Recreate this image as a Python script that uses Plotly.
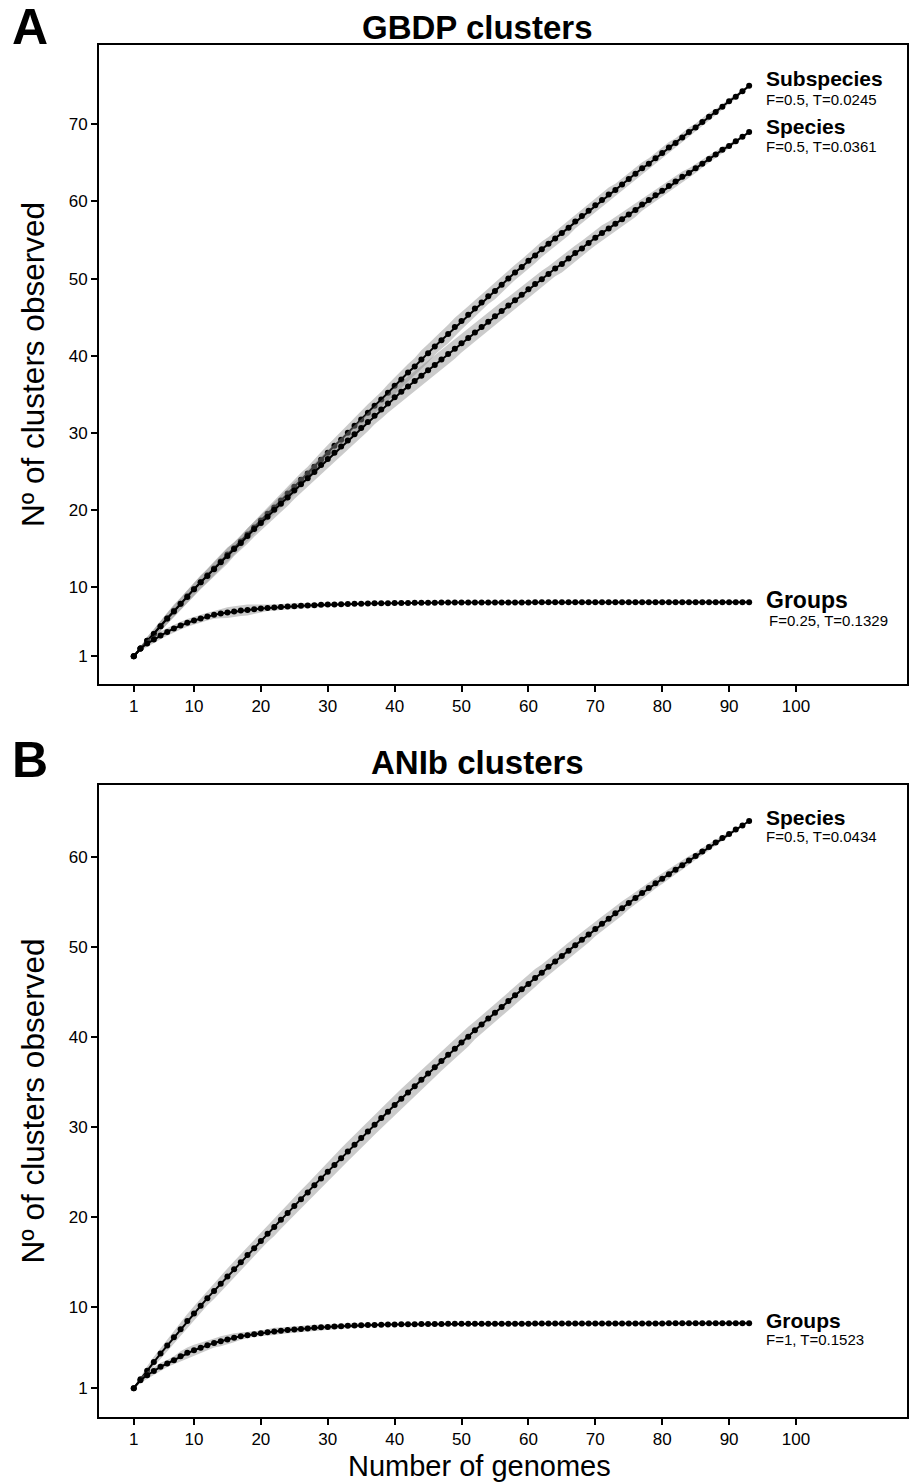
import plotly.graph_objects as go

genomes = list(range(1, 94))

# Panel A (GBDP) mean number of clusters
gbdp_subspecies = [
    1.0, 2.0, 3.0, 3.9, 4.9, 5.9, 6.9, 7.8, 8.8, 9.7,
    10.6, 11.5, 12.4, 13.3, 14.2, 15.0, 15.9, 16.8, 17.7, 18.6,
    19.5, 20.3, 21.2, 22.1, 23.0, 23.9, 24.7, 25.6, 26.5, 27.4,
    28.3, 29.1, 30.0, 30.9, 31.7, 32.6, 33.5, 34.3, 35.2, 36.1,
    36.9, 37.8, 38.6, 39.5, 40.3, 41.2, 42.0, 42.8, 43.7, 44.5,
    45.3, 46.1, 46.9, 47.7, 48.4, 49.2, 50.0, 50.8, 51.5, 52.3,
    53.0, 53.8, 54.5, 55.2, 55.9, 56.6, 57.4, 58.1, 58.8, 59.5,
    60.2, 60.9, 61.5, 62.2, 62.9, 63.6, 64.3, 64.9, 65.6, 66.3,
    67.0, 67.6, 68.3, 69.0, 69.6, 70.3, 71.0, 71.6, 72.3, 73.0,
    73.6, 74.3, 75.0]
gbdp_species = [
    1.0, 2.0, 3.0, 3.9, 4.9, 5.9, 6.8, 7.8, 8.7, 9.7,
    10.6, 11.4, 12.3, 13.2, 14.0, 14.9, 15.7, 16.6, 17.5, 18.3,
    19.1, 20.0, 20.8, 21.6, 22.5, 23.3, 24.1, 24.9, 25.8, 26.6,
    27.4, 28.2, 29.0, 29.8, 30.6, 31.4, 32.2, 33.0, 33.8, 34.6,
    35.3, 36.0, 36.7, 37.4, 38.1, 38.8, 39.5, 40.2, 40.9, 41.6,
    42.3, 43.0, 43.7, 44.4, 45.1, 45.8, 46.5, 47.2, 47.9, 48.6,
    49.3, 49.9, 50.6, 51.3, 51.9, 52.6, 53.3, 53.9, 54.6, 55.3,
    55.9, 56.5, 57.1, 57.7, 58.3, 58.9, 59.6, 60.2, 60.8, 61.4,
    62.0, 62.6, 63.2, 63.7, 64.3, 64.9, 65.5, 66.1, 66.7, 67.2,
    67.8, 68.4, 69.0]
gbdp_groups = [
    1.0, 2.0, 2.65, 3.17, 3.7, 4.16, 4.6, 4.98, 5.33, 5.63,
    5.9, 6.15, 6.37, 6.54, 6.67, 6.8, 6.93, 7.0, 7.1, 7.19,
    7.26, 7.33, 7.39, 7.45, 7.5, 7.55, 7.59, 7.63, 7.67, 7.7,
    7.73, 7.76, 7.78, 7.8, 7.82, 7.84, 7.86, 7.87, 7.89, 7.9,
    7.91, 7.92, 7.93, 7.94, 7.95, 7.95, 7.96, 7.96, 7.97, 7.97,
    7.98, 7.98, 7.98, 7.98, 7.98, 7.98, 7.98, 7.98, 7.98, 7.98,
    7.99, 7.99, 7.99, 7.99, 7.99, 7.99, 7.99, 7.99, 7.99, 7.99,
    8.0, 8.0, 8.0, 8.0, 8.0, 8.0, 8.0, 8.0, 8.0, 8.0,
    8.0, 8.0, 8.0, 8.0, 8.0, 8.0, 8.0, 8.0, 8.0, 8.0,
    8.0, 8.0, 8.0]

# Panel A ribbon half-widths
gbdp_subspecies_hw = [
    0.0, 0.3, 0.5, 0.6, 0.7, 0.7, 0.8, 0.8, 0.8, 0.8,
    0.8, 0.9, 0.9, 0.9, 0.9, 0.8, 0.8, 0.9, 0.9, 0.9,
    0.9, 0.9, 1.0, 1.0, 1.0, 0.9, 0.9, 1.0, 1.0, 1.0,
    1.0, 1.0, 1.0, 1.0, 1.1, 1.1, 1.0, 1.0, 1.1, 1.1,
    1.1, 1.1, 1.1, 1.2, 1.2, 1.1, 1.1, 1.2, 1.2, 1.1,
    1.1, 1.1, 1.0, 1.0, 1.1, 1.1, 1.0, 1.0, 1.0, 1.0,
    1.0, 1.0, 0.9, 0.9, 1.0, 1.0, 0.9, 0.9, 0.9, 0.9,
    0.9, 0.9, 0.8, 0.8, 0.8, 0.8, 0.8, 0.7, 0.7, 0.7,
    0.7, 0.6, 0.6, 0.6, 0.5, 0.5, 0.5, 0.4, 0.4, 0.3,
    0.3, 0.2, 0.0]
gbdp_species_hw = [
    0.0, 0.3, 0.5, 0.6, 0.7, 0.7, 0.8, 0.8, 0.8, 0.9,
    0.9, 0.9, 0.9, 1.0, 1.0, 0.9, 0.9, 1.0, 1.0, 1.0,
    1.0, 1.0, 1.1, 1.1, 1.1, 1.0, 1.0, 1.1, 1.1, 1.1,
    1.1, 1.1, 1.2, 1.2, 1.2, 1.2, 1.1, 1.2, 1.2, 1.3,
    1.3, 1.3, 1.3, 1.3, 1.3, 1.2, 1.3, 1.3, 1.3, 1.2,
    1.2, 1.2, 1.2, 1.2, 1.2, 1.2, 1.1, 1.1, 1.1, 1.1,
    1.1, 1.1, 1.0, 1.0, 1.1, 1.1, 1.0, 1.0, 1.0, 1.0,
    1.0, 0.9, 0.9, 0.9, 0.9, 0.9, 0.8, 0.8, 0.8, 0.8,
    0.7, 0.7, 0.7, 0.6, 0.6, 0.5, 0.5, 0.4, 0.4, 0.3,
    0.3, 0.2, 0.0]
gbdp_groups_hw = [
    0.0, 0.3, 0.45, 0.5, 0.5, 0.5, 0.5, 0.5, 0.5, 0.5,
    0.5, 0.5, 0.5, 0.6, 0.7, 0.7, 0.7, 0.7, 0.6, 0.5,
    0.4, 0.4, 0.4, 0.4, 0.35, 0.35, 0.3, 0.3, 0.3, 0.25,
    0.2, 0.15, 0.1, 0.1, 0.05, 0.0, 0.0, 0.0, 0.0, 0.0,
    0.0, 0.0, 0.0, 0.0, 0.0, 0.0, 0.0, 0.0, 0.0, 0.0,
    0.0, 0.0, 0.0, 0.0, 0.0, 0.0, 0.0, 0.0, 0.0, 0.0,
    0.0, 0.0, 0.0, 0.0, 0.0, 0.0, 0.0, 0.0, 0.0, 0.0,
    0.0, 0.0, 0.0, 0.0, 0.0, 0.0, 0.0, 0.0, 0.0, 0.0,
    0.0, 0.0, 0.0, 0.0, 0.0, 0.0, 0.0, 0.0, 0.0, 0.0,
    0.0, 0.0, 0.0]

# Panel B (ANIb)
anib_species = [
    1.0, 2.0, 2.95, 3.9, 4.85, 5.75, 6.65, 7.55, 8.45, 9.3,
    10.15, 11.0, 11.8, 12.6, 13.4, 14.2, 15.0, 15.8, 16.55, 17.35,
    18.15, 18.9, 19.7, 20.45, 21.25, 22.0, 22.75, 23.55, 24.3, 25.05,
    25.8, 26.55, 27.3, 28.05, 28.8, 29.5, 30.25, 31.0, 31.7, 32.45,
    33.15, 33.85, 34.55, 35.25, 35.95, 36.65, 37.35, 38.05, 38.7, 39.4,
    40.05, 40.75, 41.4, 42.05, 42.7, 43.35, 44.0, 44.65, 45.3, 45.9,
    46.55, 47.15, 47.8, 48.4, 49.0, 49.6, 50.2, 50.8, 51.4, 52.0,
    52.6, 53.15, 53.75, 54.3, 54.9, 55.45, 56.0, 56.55, 57.1, 57.6,
    58.1, 58.6, 59.1, 59.6, 60.1, 60.6, 61.1, 61.6, 62.1, 62.55,
    63.05, 63.5, 64.0]
anib_groups = [
    1.0, 1.89, 2.44, 2.92, 3.37, 3.74, 4.11, 4.56, 4.93, 5.22,
    5.48, 5.78, 6.03, 6.22, 6.41, 6.59, 6.78, 6.89, 7.0, 7.11,
    7.2, 7.3, 7.38, 7.45, 7.52, 7.58, 7.64, 7.7, 7.76, 7.81,
    7.85, 7.89, 7.93, 7.96, 7.99, 8.01, 8.03, 8.05, 8.07, 8.08,
    8.09, 8.1, 8.11, 8.12, 8.13, 8.14, 8.14, 8.15, 8.15, 8.16,
    8.17, 8.17, 8.17, 8.17, 8.17, 8.17, 8.17, 8.17, 8.17, 8.17,
    8.18, 8.18, 8.18, 8.18, 8.18, 8.18, 8.18, 8.18, 8.18, 8.18,
    8.19, 8.19, 8.19, 8.19, 8.19, 8.19, 8.19, 8.19, 8.19, 8.19,
    8.2, 8.2, 8.2, 8.2, 8.2, 8.2, 8.2, 8.2, 8.2, 8.2,
    8.2, 8.2, 8.2]
anib_species_hw = [
    0.0, 0.3, 0.5, 0.6, 0.6, 0.7, 0.7, 0.8, 0.8, 0.8,
    0.8, 0.8, 0.9, 0.9, 0.9, 0.9, 0.9, 0.9, 0.9, 0.9,
    0.9, 1.0, 1.0, 1.0, 1.0, 1.0, 1.0, 1.0, 1.0, 1.1,
    1.1, 1.1, 1.1, 1.1, 1.1, 1.1, 1.1, 1.1, 1.1, 1.1,
    1.1, 1.1, 1.1, 1.1, 1.1, 1.1, 1.1, 1.1, 1.1, 1.1,
    1.1, 1.0, 1.0, 1.0, 1.0, 1.0, 1.0, 1.0, 1.0, 1.0,
    1.0, 0.9, 0.9, 0.9, 0.9, 0.9, 0.9, 0.9, 0.9, 0.8,
    0.8, 0.8, 0.8, 0.8, 0.7, 0.7, 0.7, 0.7, 0.6, 0.6,
    0.6, 0.5, 0.5, 0.5, 0.4, 0.4, 0.4, 0.3, 0.3, 0.2,
    0.2, 0.1, 0.0]
anib_groups_hw = [
    0.0, 0.3, 0.4, 0.45, 0.45, 0.4, 0.45, 0.55, 0.6, 0.6,
    0.6, 0.55, 0.5, 0.55, 0.55, 0.5, 0.4, 0.35, 0.3, 0.3,
    0.35, 0.4, 0.35, 0.35, 0.35, 0.35, 0.35, 0.35, 0.3, 0.3,
    0.3, 0.3, 0.25, 0.25, 0.2, 0.2, 0.15, 0.1, 0.05, 0.0,
    0.0, 0.0, 0.0, 0.0, 0.0, 0.0, 0.0, 0.0, 0.0, 0.0,
    0.0, 0.0, 0.0, 0.0, 0.0, 0.0, 0.0, 0.0, 0.0, 0.0,
    0.0, 0.0, 0.0, 0.0, 0.0, 0.0, 0.0, 0.0, 0.0, 0.0,
    0.0, 0.0, 0.0, 0.0, 0.0, 0.0, 0.0, 0.0, 0.0, 0.0,
    0.0, 0.0, 0.0, 0.0, 0.0, 0.0, 0.0, 0.0, 0.0, 0.0,
    0.0, 0.0, 0.0]

x_ticks = [1, 10, 20, 30, 40, 50, 60, 70, 80, 90, 100]
y_ticks_a = [1, 10, 20, 30, 40, 50, 60, 70]
y_ticks_b = [1, 10, 20, 30, 40, 50, 60]

series_a = [
    ("Subspecies", "F=0.5, T=0.0245", gbdp_subspecies, gbdp_subspecies_hw),
    ("Species", "F=0.5, T=0.0361", gbdp_species, gbdp_species_hw),
    ("Groups", "F=0.25, T=0.1329", gbdp_groups, gbdp_groups_hw),
]
series_b = [
    ("Species", "F=0.5, T=0.0434", anib_species, anib_species_hw),
    ("Groups", "F=1, T=0.1523", anib_groups, anib_groups_hw),
]

FONT = "Liberation Sans, Arial, Helvetica, sans-serif"
fig = go.Figure()

def add_series(mean, hw, xa, ya):
    upper = [m + h for m, h in zip(mean, hw)]
    lower = [m - h for m, h in zip(mean, hw)]
    fig.add_trace(go.Scatter(
        x=genomes + genomes[::-1], y=upper + lower[::-1],
        fill="toself", fillcolor="rgba(140,140,140,0.45)",
        line=dict(width=0), mode="lines", hoverinfo="skip",
        showlegend=False, xaxis=xa, yaxis=ya))
    fig.add_trace(go.Scatter(
        x=genomes, y=mean, mode="lines+markers",
        line=dict(color="black", width=2),
        marker=dict(color="black", size=6),
        showlegend=False, xaxis=xa, yaxis=ya))

for _, _, m, h in series_a:
    add_series(m, h, "x", "y")
for _, _, m, h in series_b:
    add_series(m, h, "x2", "y2")

annotations = []
# (name yshift, param-line yshift, param-line xshift, name font size)
label_shifts_a = {"Subspecies": (7, -14, 17, 21), "Species": (6, -14, 17, 21), "Groups": (2, -18, 20, 23)}
label_shifts_b = {"Species": (4, -15, 17, 21), "Groups": (3, -16, 17, 21)}

def add_labels(series, shifts, xref, yref):
    for name, ft, m, _ in series:
        ys_name, ys_ft, xs_ft, fs = shifts[name]
        annotations.append(dict(
            x=genomes[-1], y=m[-1], xref=xref, yref=yref,
            text="<b>%s</b>" % name, showarrow=False,
            xanchor="left", yanchor="middle", xshift=15, yshift=ys_name,
            font=dict(family=FONT, size=fs, color="black")))
        annotations.append(dict(
            x=genomes[-1], y=m[-1], xref=xref, yref=yref,
            text=ft, showarrow=False,
            xanchor="left", yanchor="middle", xshift=xs_ft - 2, yshift=ys_ft,
            font=dict(family=FONT, size=15, color="black")))

add_labels(series_a, label_shifts_a, "x", "y")
add_labels(series_b, label_shifts_b, "x2", "y2")

H = 1483
W = 909
def px(xp):
    return xp / W
def py(yp):
    return 1 - yp / H

for txt, yy in [("A", 27), ("B", 760)]:
    annotations.append(dict(
        x=px(30), y=py(yy), xref="paper", yref="paper",
        text="<b>%s</b>" % txt, showarrow=False,
        xanchor="center", yanchor="middle",
        font=dict(family=FONT, size=50, color="black")))
for txt, yy in [("GBDP clusters", 28), ("ANIb clusters", 762)]:
    annotations.append(dict(
        x=px(477), y=py(yy), xref="paper", yref="paper",
        text="<b>%s</b>" % txt, showarrow=False,
        xanchor="center", yanchor="middle",
        font=dict(family=FONT, size=33, color="black")))
annotations.append(dict(
    x=px(479), y=py(1466), xref="paper", yref="paper",
    text="Number of genomes", showarrow=False,
    xanchor="center", yanchor="middle",
    font=dict(family=FONT, size=29, color="black")))

fig.update_layout(
    annotations=annotations,
    width=W, height=H,
    margin=dict(l=0, r=0, t=0, b=0),
    paper_bgcolor="white", plot_bgcolor="white",
    font=dict(family=FONT, color="black"),
)

axis_common = dict(
    showline=True, linecolor="black", linewidth=2, mirror=True,
    ticks="outside", ticklen=6, tickwidth=1.5, tickcolor="black",
    showgrid=False, zeroline=False,
    tickfont=dict(family=FONT, size=17, color="black"),
)

x0, x1 = px(99), px(907)
fig.update_layout(
    xaxis=dict(domain=[x0, x1], range=[-4.2, 116.6], tickvals=x_ticks,
               anchor="y", **axis_common),
    yaxis=dict(domain=[py(684), py(45)], range=[-2.6, 80.3], tickvals=y_ticks_a,
               anchor="x",
               title=dict(text="Nº of clusters observed", standoff=15,
                          font=dict(family=FONT, size=31.5, color="black")),
               **axis_common),
    xaxis2=dict(domain=[x0, x1], range=[-4.2, 116.6], tickvals=x_ticks,
                anchor="y2", **axis_common),
    yaxis2=dict(domain=[py(1417), py(785)], range=[-2.2, 68.0], tickvals=y_ticks_b,
                anchor="x2",
                title=dict(text="Nº of clusters observed", standoff=15,
                           font=dict(family=FONT, size=31.5, color="black")),
                **axis_common),
)

fig.write_html("out.html", config={"displayModeBar": False},
               post_script="document.body.style.margin='0';document.body.style.overflow='hidden';")
